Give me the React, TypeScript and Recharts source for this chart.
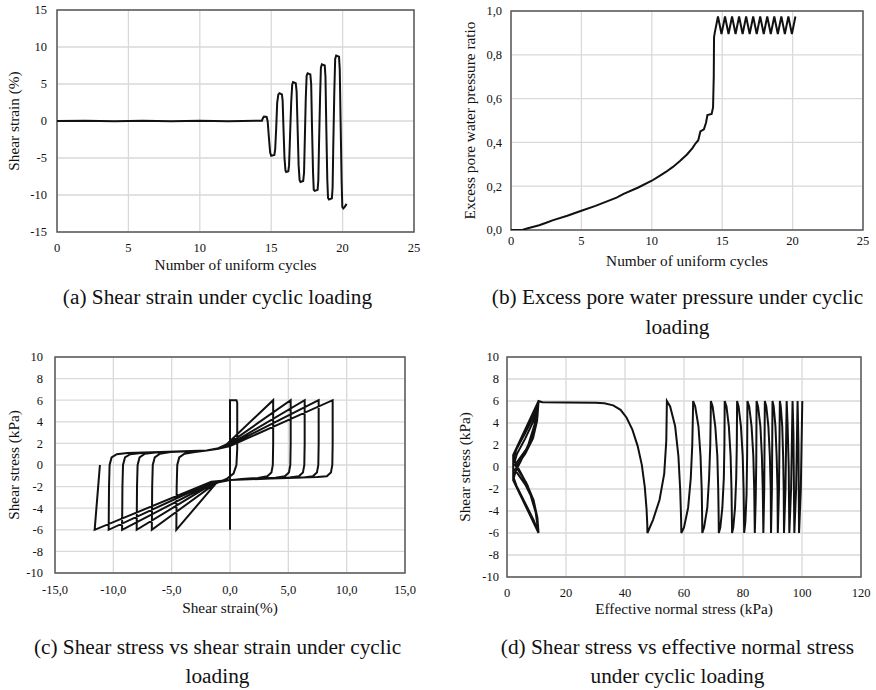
import React from 'react';
import { LineChart, Line, XAxis, YAxis, CartesianGrid, ReferenceArea } from 'recharts';

type Pt = [number, number];

const FONT = '"Liberation Serif", "Times New Roman", serif';

// (a) shear strain against number of cycles
const cycleTicks = [0, 5, 10, 15, 20, 25];
const strainTicks = [-15, -10, -5, 0, 5, 10, 15];
const strainHistory: Pt[] = [
  [0, 0], [2, 0.05], [4, -0.02], [6, 0.05], [8, -0.02], [10, 0.05], [12, -0.02], [14, 0.05], [14.35, 0.05],
  [14.42, 0.4], [14.5, 0.6], [14.68, 0.55], [14.75, 0],
  [14.85, -2.5], [14.93, -4.3], [15.0, -4.7], [15.22, -4.6], [15.28, -3.8],
  [15.35, -1], [15.42, 2.5], [15.5, 3.6], [15.58, 3.75], [15.75, 3.6], [15.8, 2.8],
  [15.86, -1], [15.93, -5], [16.0, -6.7], [16.05, -6.9], [16.2, -6.8], [16.25, -6],
  [16.32, -2], [16.4, 2.5], [16.47, 4.9], [16.53, 5.25], [16.72, 5.1], [16.78, 4],
  [16.85, -1], [16.92, -6], [16.99, -8.0], [17.05, -8.25], [17.24, -8.1], [17.3, -7],
  [17.36, -2], [17.42, 3], [17.48, 6.1], [17.55, 6.45], [17.74, 6.3], [17.8, 5],
  [17.86, -1], [17.93, -7], [17.98, -9.3], [18.05, -9.45], [18.25, -9.3], [18.3, -8],
  [18.35, -3], [18.42, 3], [18.48, 7.2], [18.55, 7.65], [18.75, 7.5], [18.8, 6],
  [18.86, -1], [18.93, -8], [18.98, -10.4], [19.05, -10.6], [19.25, -10.45], [19.3, -9],
  [19.35, -3], [19.42, 4], [19.48, 8.4], [19.55, 8.85], [19.75, 8.7], [19.8, 7],
  [19.86, 0], [19.93, -8], [19.98, -11.6], [20.05, -11.8], [20.15, -11.6], [20.28, -11.2],
];

// (b) excess pore water pressure ratio against number of cycles
const ratioTicks = [0, 0.2, 0.4, 0.6, 0.8, 1.0];
const poreHistory: Pt[] = [
  [0, 0], [0.8, 0], [1.2, 0.008], [2, 0.022], [2.5, 0.033], [3, 0.045], [4, 0.065], [5, 0.088],
  [6, 0.11], [7, 0.135], [7.5, 0.148], [8, 0.165], [9, 0.193], [10, 0.225], [10.5, 0.245],
  [11, 0.265], [11.5, 0.288], [12, 0.315], [12.5, 0.345], [12.9, 0.375], [13.1, 0.395],
  [13.3, 0.41], [13.45, 0.45], [13.7, 0.46], [13.85, 0.49], [13.95, 0.525], [14.25, 0.53],
  [14.35, 0.56], [14.4, 0.7], [14.42, 0.88], [14.47, 0.9],
  [14.7, 0.975], [14.95, 0.895], [15.2, 0.975], [15.45, 0.895], [15.7, 0.975], [15.95, 0.895],
  [16.2, 0.975], [16.45, 0.895], [16.7, 0.975], [16.95, 0.895], [17.2, 0.975], [17.45, 0.895],
  [17.7, 0.975], [17.95, 0.895], [18.2, 0.975], [18.45, 0.895], [18.7, 0.975], [18.95, 0.895],
  [19.2, 0.975], [19.45, 0.895], [19.7, 0.975], [19.95, 0.895], [20.2, 0.975],
];

// (c) shear stress against shear strain
const strainAxisTicks = [-15, -10, -5, 0, 5, 10, 15];
const stressTicks = [-10, -8, -6, -4, -2, 0, 2, 4, 6, 8, 10];
const stressStrainLoops: Pt[] = [
  [0, 0], [0, 6], [0, -6], [0, 6], [0.1, 6], [0.55, 6], [0.62, 5.8], [0.62, 1.5], [0.55, 0],
  [0.3, -0.8], [-0.3, -1.3], [-1.2, -1.7], [-4.6, -6],
  [-4.57, -2], [-4.52, 0], [-4.35, 0.7], [-3.9, 1.05], [-3, 1.2], [-2, 1.35], [-1, 1.55], [-0.3, 1.9], [3.7, 6],
  [3.7, 2], [3.67, 0], [3.55, -0.7], [3.2, -1.05], [2.4, -1.2], [1, -1.3], [0, -1.4], [-1.2, -1.65], [-6.7, -6],
  [-6.67, -2], [-6.62, 0], [-6.45, 0.7], [-6, 1.05], [-5.1, 1.2], [-3.5, 1.28], [-2, 1.35], [-1, 1.55], [-0.3, 1.85], [5.2, 6],
  [5.2, 2], [5.17, 0], [5.05, -0.7], [4.7, -1.05], [3.9, -1.18], [2, -1.28], [0, -1.4], [-1.3, -1.6], [-8.0, -6],
  [-7.97, -2], [-7.92, 0], [-7.75, 0.7], [-7.3, 1.05], [-6.4, 1.15], [-4, 1.25], [-2, 1.35], [-1, 1.5], [-0.2, 1.8], [6.4, 6],
  [6.4, 2], [6.37, 0], [6.25, -0.7], [5.9, -1.05], [5.1, -1.15], [3, -1.25], [0, -1.4], [-1.4, -1.6], [-9.25, -6],
  [-9.22, -2], [-9.17, 0], [-9, 0.7], [-8.55, 1.0], [-7.6, 1.12], [-5, 1.22], [-2, 1.35], [-1, 1.5], [-0.1, 1.8], [7.6, 6],
  [7.6, 2], [7.57, 0], [7.45, -0.7], [7.1, -1.05], [6.3, -1.15], [3.5, -1.25], [0, -1.4], [-1.5, -1.55], [-10.4, -6],
  [-10.37, -2], [-10.32, 0], [-10.15, 0.7], [-9.7, 1.0], [-8.8, 1.1], [-6, 1.2], [-2, 1.35], [-1, 1.5], [0, 1.75], [8.8, 6],
  [8.8, 2], [8.77, 0], [8.65, -0.7], [8.3, -1.05], [7.5, -1.12], [4, -1.22], [0, -1.4], [-1.6, -1.55], [-11.6, -6],
  [-11.45, -4], [-11.3, -2], [-11.15, 0],
];

// (d) shear stress against effective normal stress
const normalTicks = [0, 20, 40, 60, 80, 100, 120];
const stressPath: Pt[] = [
  [10.7, 6], [2.1, 1.1], [2.1, -1.2], [10.7, -6],
  [9.8, -4.2], [7.6, -2.2], [4.8, -0.6], [2.9, 0.3], [2.3, 0.9],
  [3.2, 1.6], [6, 3], [9, 4.6], [10.7, 6],
  [10.2, 4.2], [8.8, 2.6], [6.2, 1.2], [3.6, 0.2], [2.6, -0.3],
  [3.6, -0.6], [6.2, -1.6], [8.8, -3], [10.2, -4.5], [10.7, -6],
  [10.3, -4.6], [9, -3], [6.5, -1.4], [3.8, -0.3], [2.7, 0.2],
  [3.8, 0.6], [6.5, 1.6], [9, 3.1], [10.3, 4.5], [10.7, 6],
  [9.4, 3.9], [7.2, 2.0], [4.6, 0.5], [2.9, -0.4], [2.3, -1.0],
  [3.2, -1.7], [6, -3.2], [9, -4.8], [10.7, -6],
  [9.6, -3.9], [7, -1.7], [4.2, -0.3], [2.6, 0.5], [3.4, 1.2], [6.2, 2.6], [9.2, 4.3], [10.7, 6],
  [12, 5.88], [20, 5.86], [30, 5.84], [33, 5.8], [36, 5.6], [38.5, 5.2], [40.5, 4.5], [42.5, 3.4],
  [44.3, 1.9], [45.7, 0.2], [46.7, -1.8], [47.3, -3.8], [47.55, -5.2], [47.6, -6],
  [49.5, -4.8], [51.7, -3], [53.3, -0.6], [54, 2.4], [54.2, 6],
  [55.3, 5.5], [57, 3.7], [58.1, 1], [58.7, -2], [59, -4.5], [59.1, -6],
  [60, -5.5], [61.4, -3.7], [62.3, -1], [62.8, 2], [63, 4.5], [63.1, 6],
  [63.8, 5.5], [64.9, 3.7], [65.6, 1], [66, -2], [66.15, -4.5], [66.2, -6],
  [66.8, -5.5], [67.9, -3.7], [68.5, -1], [68.9, 2], [69.05, 4.5], [69.1, 6],
  [69.7, 5.5], [70.6, 3.7], [71.3, 1], [71.6, -2], [71.75, -4.5], [71.8, -6],
  [72.3, -5.5], [73, -3.7], [73.5, -1], [73.7, 2], [73.8, 6],
  [74.4, 5.5], [75.2, 3.7], [75.8, 1], [76.1, -2], [76.3, -6],
  [76.7, -5.5], [77.3, -3.7], [77.7, -1], [77.9, 2], [78, 6],
  [78.5, 5.5], [79.3, 3.7], [79.9, 1], [80.2, -2], [80.4, -6],
  [80.8, -5], [81.2, -2.5], [81.4, 1], [81.5, 6],
  [82.1, 5.5], [82.9, 3.7], [83.5, 1], [83.8, -2], [84, -6],
  [84.3, -3], [84.5, 0.5], [84.6, 6],
  [85.1, 5.5], [85.9, 3.7], [86.4, 1], [86.7, -2], [86.9, -6],
  [87.2, -2], [87.4, 6],
  [87.9, 5.5], [88.6, 3.7], [89.1, 1], [89.4, -2], [89.5, -6],
  [89.8, -2], [90, 6],
  [90.4, 5.5], [91, 3.7], [91.4, 1], [91.7, -2], [91.8, -6],
  [92.2, -2], [92.5, 6],
  [92.8, 5.5], [93.3, 3.7], [93.6, 1], [93.8, -2], [93.9, -6],
  [94.4, -2], [94.8, 6],
  [95.1, 4], [95.5, 0], [95.7, -6],
  [96.3, -2], [96.8, 6],
  [97.1, 3], [97.4, -6],
  [98, -2], [98.5, 6],
  [98.8, 2], [99, -6],
  [99.6, -2], [100.1, 6],
];

const comma1 = (v: number) => v.toFixed(1).replace('.', ',');

interface PanelProps {
  data: Pt[];
  plot: { l: number; t: number; r: number; b: number };
  xDomain: [number, number];
  xTicks: number[];
  xFormat?: (v: number) => string;
  yDomain: [number, number];
  yTicks: number[];
  yFormat?: (v: number) => string;
  xTitle: string;
  yTitle: string;
  yTitleX: number;
  xTitleBase: number;
  xTickCenter: number;
  yTickRight: number;
}

const Panel = ({ data, plot, xDomain, xTicks, xFormat, yDomain, yTicks, yFormat, xTitle, yTitle, yTitleX, xTitleBase, xTickCenter, yTickRight }: PanelProps) => {
  const yw = 2 * (plot.l - yTitleX);
  const xh = xTitleBase - plot.b + 4;
  const left = plot.l - yw - 4;
  const top = plot.t - 14;
  const width = plot.r - left + 20;
  const height = xTitleBase + 10 - top;
  const rows = data.map(([x, y]) => ({ x, y }));
  const tickStyle = { fontSize: 12.5, fill: '#111', fontFamily: FONT };
  const titleStyle = { fontSize: 15.3, fill: '#111', fontFamily: FONT };
  return (
    <div style={{ position: 'absolute', left, top }}>
      <LineChart width={width} height={height} margin={{ left: 4, top: 14, right: 20, bottom: 6 }}>
        <CartesianGrid stroke="#d9d9d9" strokeWidth={1.3} />
        <XAxis
          type="number"
          dataKey="x"
          domain={xDomain}
          ticks={xTicks}
          allowDataOverflow
          tickFormatter={xFormat}
          axisLine={false}
          tickLine={false}
          tickSize={0}
          tickMargin={xTickCenter - plot.b - 4.7}
          height={xh}
          tick={tickStyle}
          interval={0}
          label={{ value: xTitle, position: 'insideBottom', offset: 4, style: titleStyle }}
        />
        <YAxis
          type="number"
          domain={yDomain}
          ticks={yTicks}
          allowDataOverflow
          tickFormatter={yFormat}
          axisLine={false}
          tickLine={false}
          tickSize={0}
          tickMargin={plot.l - yTickRight}
          width={yw}
          tick={tickStyle}
          interval={0}
          label={{ value: yTitle, position: 'center', angle: -90, style: titleStyle }}
        />
        <ReferenceArea x1={xDomain[0]} x2={xDomain[1]} y1={yDomain[0]} y2={yDomain[1]} fill="none" stroke="#595959" strokeWidth={1.5} ifOverflow="visible" />
        <Line data={rows} dataKey="y" type="linear" stroke="#111" strokeWidth={2} dot={false} activeDot={false} isAnimationActive={false} />
      </LineChart>
    </div>
  );
};

const captionStyle = (center: number, top: number, lh: number): React.CSSProperties => ({
  position: 'absolute',
  left: center - 220,
  top,
  width: 440,
  textAlign: 'center',
  fontFamily: FONT,
  fontSize: 21.3,
  lineHeight: `${lh}px`,
  color: '#111',
});

export default function App() {
  return (
    <div style={{ position: 'absolute', left: 0, top: 0, width: 876, height: 690, background: '#fff', overflow: 'hidden' }}>
      <Panel
        data={strainHistory}
        plot={{ l: 57, t: 10, r: 414, b: 232 }}
        xDomain={[0, 25]} xTicks={cycleTicks}
        yDomain={[-15, 15]} yTicks={strainTicks}
        xTitle="Number of uniform cycles" yTitle="Shear strain (%)"
        yTitleX={13.5} xTitleBase={270} xTickCenter={248} yTickRight={47}
      />
      <Panel
        data={poreHistory}
        plot={{ l: 511, t: 11, r: 863, b: 230 }}
        xDomain={[0, 25]} xTicks={cycleTicks}
        yDomain={[0, 1]} yTicks={ratioTicks} yFormat={comma1}
        xTitle="Number of uniform cycles" yTitle="Excess pore water pressure ratio"
        yTitleX={470} xTitleBase={266} xTickCenter={241} yTickRight={502}
      />
      <Panel
        data={stressStrainLoops}
        plot={{ l: 55, t: 357, r: 405, b: 573 }}
        xDomain={[-15, 15]} xTicks={strainAxisTicks} xFormat={comma1}
        yDomain={[-10, 10]} yTicks={stressTicks}
        xTitle="Shear strain(%)" yTitle="Shear stress (kPa)"
        yTitleX={13.5} xTitleBase={613} xTickCenter={590} yTickRight={43}
      />
      <Panel
        data={stressPath}
        plot={{ l: 507, t: 357, r: 861, b: 577 }}
        xDomain={[0, 120]} xTicks={normalTicks}
        yDomain={[-10, 10]} yTicks={stressTicks}
        xTitle="Effective normal stress (kPa)" yTitle="Shear stress (kPa)"
        yTitleX={465} xTitleBase={614} xTickCenter={593} yTickRight={499}
      />
      <div style={captionStyle(217.5, 282, 30)}>(a) Shear strain under cyclic loading</div>
      <div style={captionStyle(677.5, 282, 30)}>(b) Excess pore water pressure under cyclic<br />loading</div>
      <div style={captionStyle(217.5, 633, 29)}>(c) Shear stress vs shear strain under cyclic<br />loading</div>
      <div style={captionStyle(677.5, 633, 29)}>(d) Shear stress vs effective normal stress<br />under cyclic loading</div>
    </div>
  );
}
